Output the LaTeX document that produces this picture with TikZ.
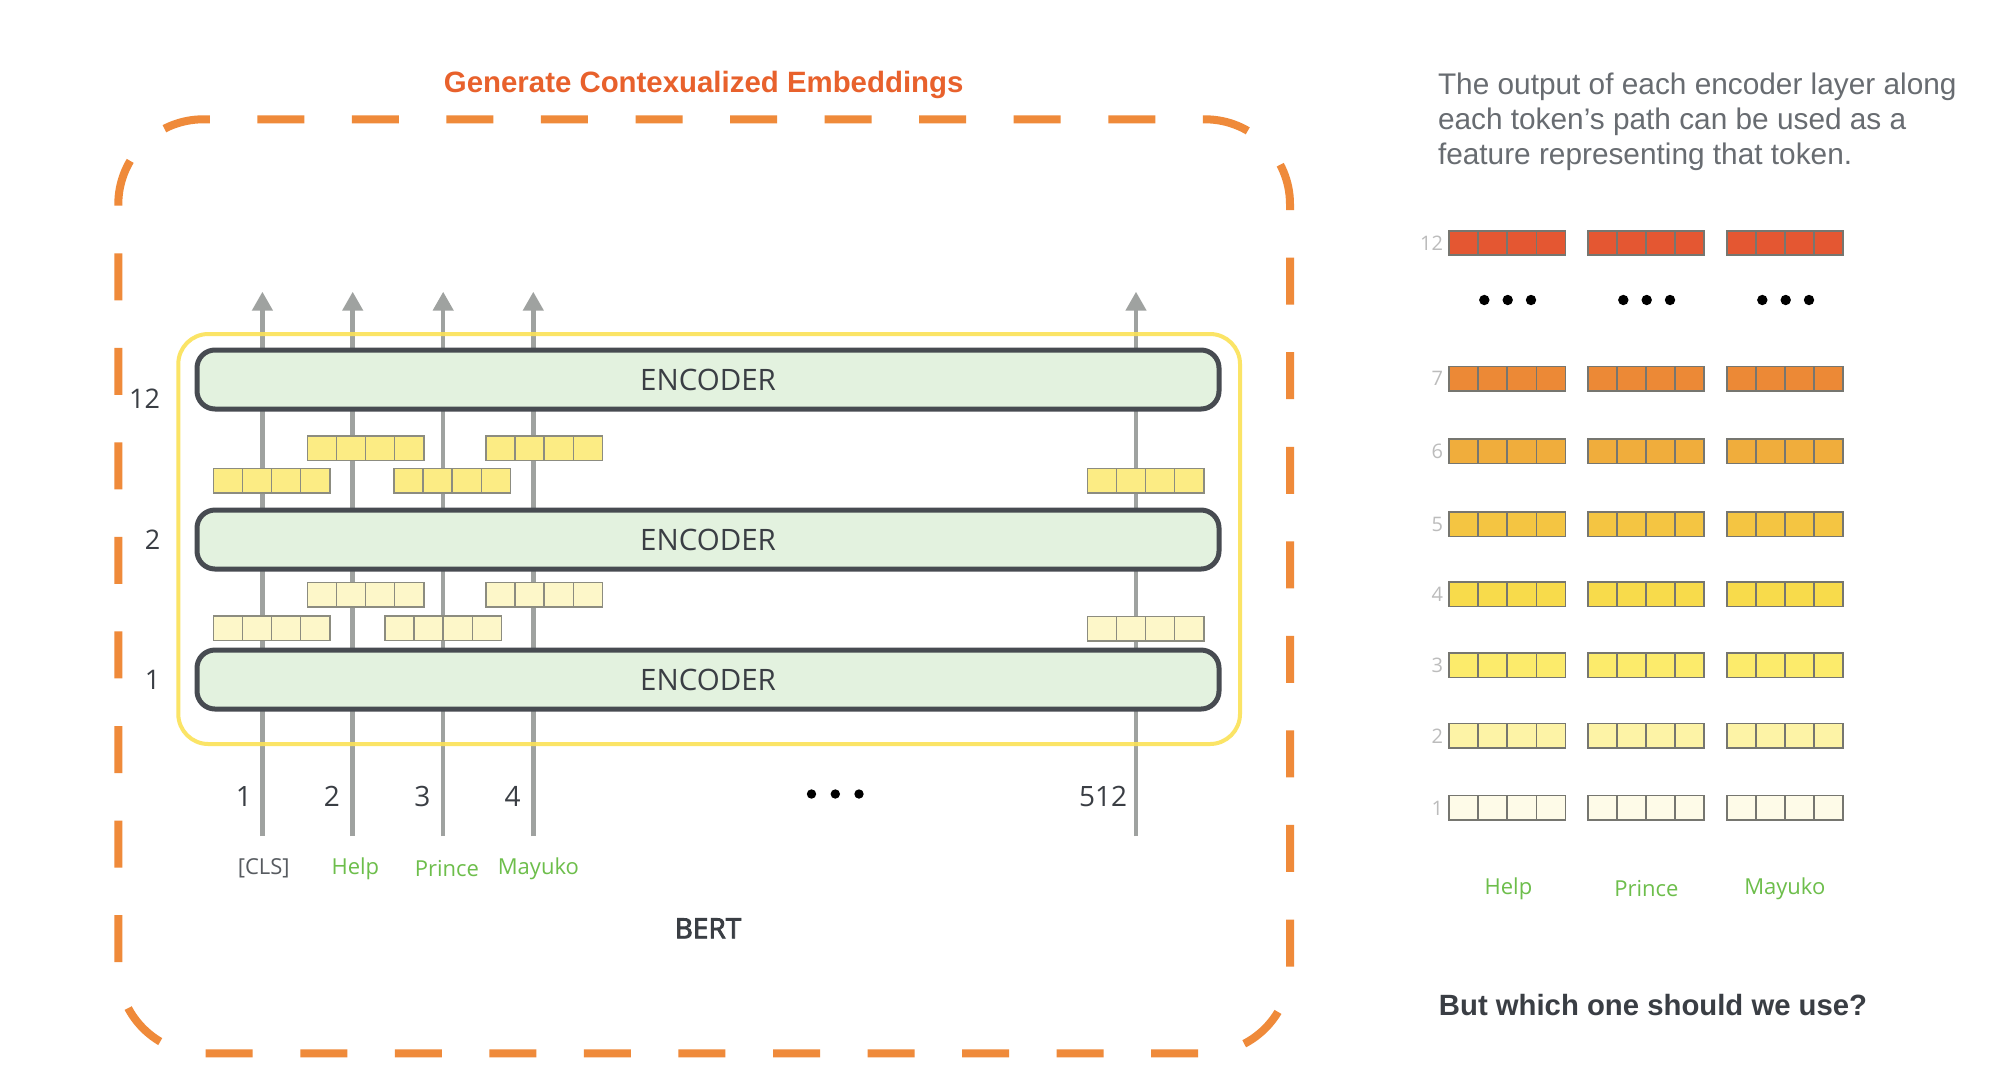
\documentclass[tikz,border=0pt]{standalone}
\usepackage{fontspec}
\setmainfont{Open Sans}
\newfontfamily\helv{Liberation Sans}
\newfontfamily\osemi{Open Sans}[FakeBold=3]
\usetikzlibrary{arrows.meta}
\definecolor{dashorange}{RGB}{239,138,58}
\definecolor{titleorange}{RGB}{232,97,44}
\definecolor{boxyellow}{RGB}{251,226,86}
\definecolor{encfill}{RGB}{227,242,223}
\definecolor{encdraw}{RGB}{71,75,81}
\definecolor{arrowgray}{RGB}{159,162,160}
\definecolor{txtdark}{RGB}{58,62,68}
\definecolor{tokgreen}{RGB}{109,190,75}
\definecolor{paragray}{RGB}{104,108,113}
\definecolor{lblgray}{RGB}{188,188,188}
\definecolor{cellgray}{RGB}{140,140,128}
\definecolor{vecA}{RGB}{252,236,132}
\definecolor{vecB}{RGB}{253,247,201}
\definecolor{rA}{RGB}{228,87,50}
\definecolor{rB}{RGB}{236,137,54}
\definecolor{rC}{RGB}{240,173,60}
\definecolor{rD}{RGB}{244,197,66}
\definecolor{rE}{RGB}{248,219,75}
\definecolor{rF}{RGB}{252,235,107}
\definecolor{rG}{RGB}{253,243,166}
\definecolor{rH}{RGB}{254,251,232}
\definecolor{cellborder}{RGB}{118,118,112}
\newcommand\VecBlk[4]{%
  \draw[line width=1.6pt,draw=#4,fill=#3] (#1,#2) rectangle ++(116.5,24.5);
  \foreach \k in {1,2,3}{\draw[line width=1.6pt,draw=#4] ({#1+\k*29.125},#2) -- ++(0,24.5);}
}
\begin{document}
\begin{tikzpicture}[x=1pt,y=-1pt,
  every node/.style={inner sep=0pt,outer sep=0pt},
  enc/.style={draw=encdraw,line width=5pt,fill=encfill,rounded corners=18pt,
    minimum width=1022pt,minimum height=59pt,text=txtdark,font=\fontsize{29.5}{35}\selectfont},
  flow/.style={draw=arrowgray,line width=4.5pt,-{Triangle[length=19pt,width=20pt]}},
  lay/.style={text=txtdark,font=\fontsize{27}{32}\selectfont},
  num/.style={text=txtdark,font=\fontsize{28}{32}\selectfont},
  tok/.style={text=tokgreen,font=\fontsize{22}{26}\selectfont},
  rlbl/.style={text=lblgray,font=\fontsize{20}{24}\selectfont,anchor=east},
  para/.style={text=paragray,font=\helv\fontsize{29.8}{35}\selectfont,anchor=west},
  dot/.style={fill=black}
]
\fill[white] (0,0) rectangle (1996,1088);
\useasboundingbox (0,0) rectangle (1996,1088);

% outer dashed frame
\draw[dashorange,line width=8pt,rounded corners=85pt,dash pattern=on 47pt off 47.55pt]
  (257.3,119.3) -- (1290,119.3) -- (1290,1053.3) -- (118.3,1053.3) -- (118.3,119.3) -- (257.3,119.3);
\node[text=titleorange,font=\helv\bfseries\fontsize{29.4}{34}\selectfont] (title) at (703.7,85)
  {Generate Contexualized Embeddings};

% token paths
\foreach \n/\x in {1/262.4,2/352.7,3/443.2,4/533.3,5/1136}{
  \coordinate (b\n) at (\x,836);
  \coordinate (t\n) at (\x,291.7);
  \draw[flow] (b\n) -- (t\n);
}

% yellow BERT box
\draw[boxyellow,line width=4pt,rounded corners=30pt,opacity=0.9] (178.3,334) rectangle (1240,744);

% encoders
\node[enc] (enc12) at (708,379.5) {ENCODER};
\node[enc] (enc2) at (708,539.5) {ENCODER};
\node[enc] (enc1) at (708,679.5) {ENCODER};

% vectors between encoders
\VecBlk{307.3}{436}{vecA}{cellgray}
\VecBlk{486}{436}{vecA}{cellgray}
\VecBlk{213.3}{468.3}{vecA}{cellgray}
\VecBlk{394}{468.3}{vecA}{cellgray}
\VecBlk{1087.3}{468.3}{vecA}{cellgray}
\VecBlk{307.3}{582.3}{vecB}{cellgray}
\VecBlk{486}{582.3}{vecB}{cellgray}
\VecBlk{213.3}{616}{vecB}{cellgray}
\VecBlk{385}{616}{vecB}{cellgray}
\VecBlk{1087.3}{616.3}{vecB}{cellgray}

% layer labels
\node[lay] (l12) at (144.5,398.3) {12};
\node[lay] (l2) at (152.5,540) {2};
\node[lay] (l1) at (152.5,680) {1};

% position numbers
\node[num] (p1) at (243.8,796.7) {1};
\node[num] (p2) at (332,796.7) {2};
\node[num] (p3) at (422.3,796.7) {3};
\node[num] (p4) at (512.5,796.7) {4};
\node[num] (p512) at (1103,796.7) {512};
\fill[dot] (811.5,794) circle (4.7pt);
\fill[dot] (835.3,794) circle (4.7pt);
\fill[dot] (859,794) circle (4.7pt);

% tokens
\node[tok,text=txtdark!85] (cls) at (263.8,868.3) {[CLS]};
\node[tok] (help) at (355.4,868.3) {Help};
\node[tok] (prince) at (446.9,868.3) {Prince};
\node[tok] (mayuko) at (538.4,868.3) {Mayuko};
\node[text=txtdark,font=\osemi\fontsize{28}{32}\selectfont] (bert) at (708,928.3) {BERT};

% right panel text
\node[para] (q1) at (1438,86.7) {The output of each encoder layer along};
\node[para] (q2) at (1438,121.7) {each token’s path can be used as a};
\node[para] (q3) at (1438,156.7) {feature representing that token.};

% right panel vectors
\foreach \lab/\y/\c in {12/230.7/rA,7/366.3/rB,6/438.9/rC,5/512/rD,4/582/rE,3/653/rF,2/723.5/rG,1/795.5/rH}{
  \node[rlbl] (r\lab) at (1443,\y+12.5) {\lab};
  \foreach \xx in {1449,1587.7,1726.7}{
    \VecBlk{\xx}{\y}{\c}{cellborder}
  }
}
\foreach \xx in {1484.3,1623.3,1762.3}{
  \fill[dot] (\xx,300) circle (5.2pt);
  \fill[dot] (\xx+23.4,300) circle (5.2pt);
  \fill[dot] (\xx+46.7,300) circle (5.2pt);
}
\node[tok] (rhelp) at (1508.4,888.3) {Help};
\node[tok] (rprince) at (1646.4,888.3) {Prince};
\node[tok] (rmayuko) at (1784.8,888.3) {Mayuko};

\node[text=txtdark,font=\helv\bfseries\fontsize{29.3}{34}\selectfont] (question) at (1653,1005)
  {But which one should we use?};
\end{tikzpicture}
\end{document}
